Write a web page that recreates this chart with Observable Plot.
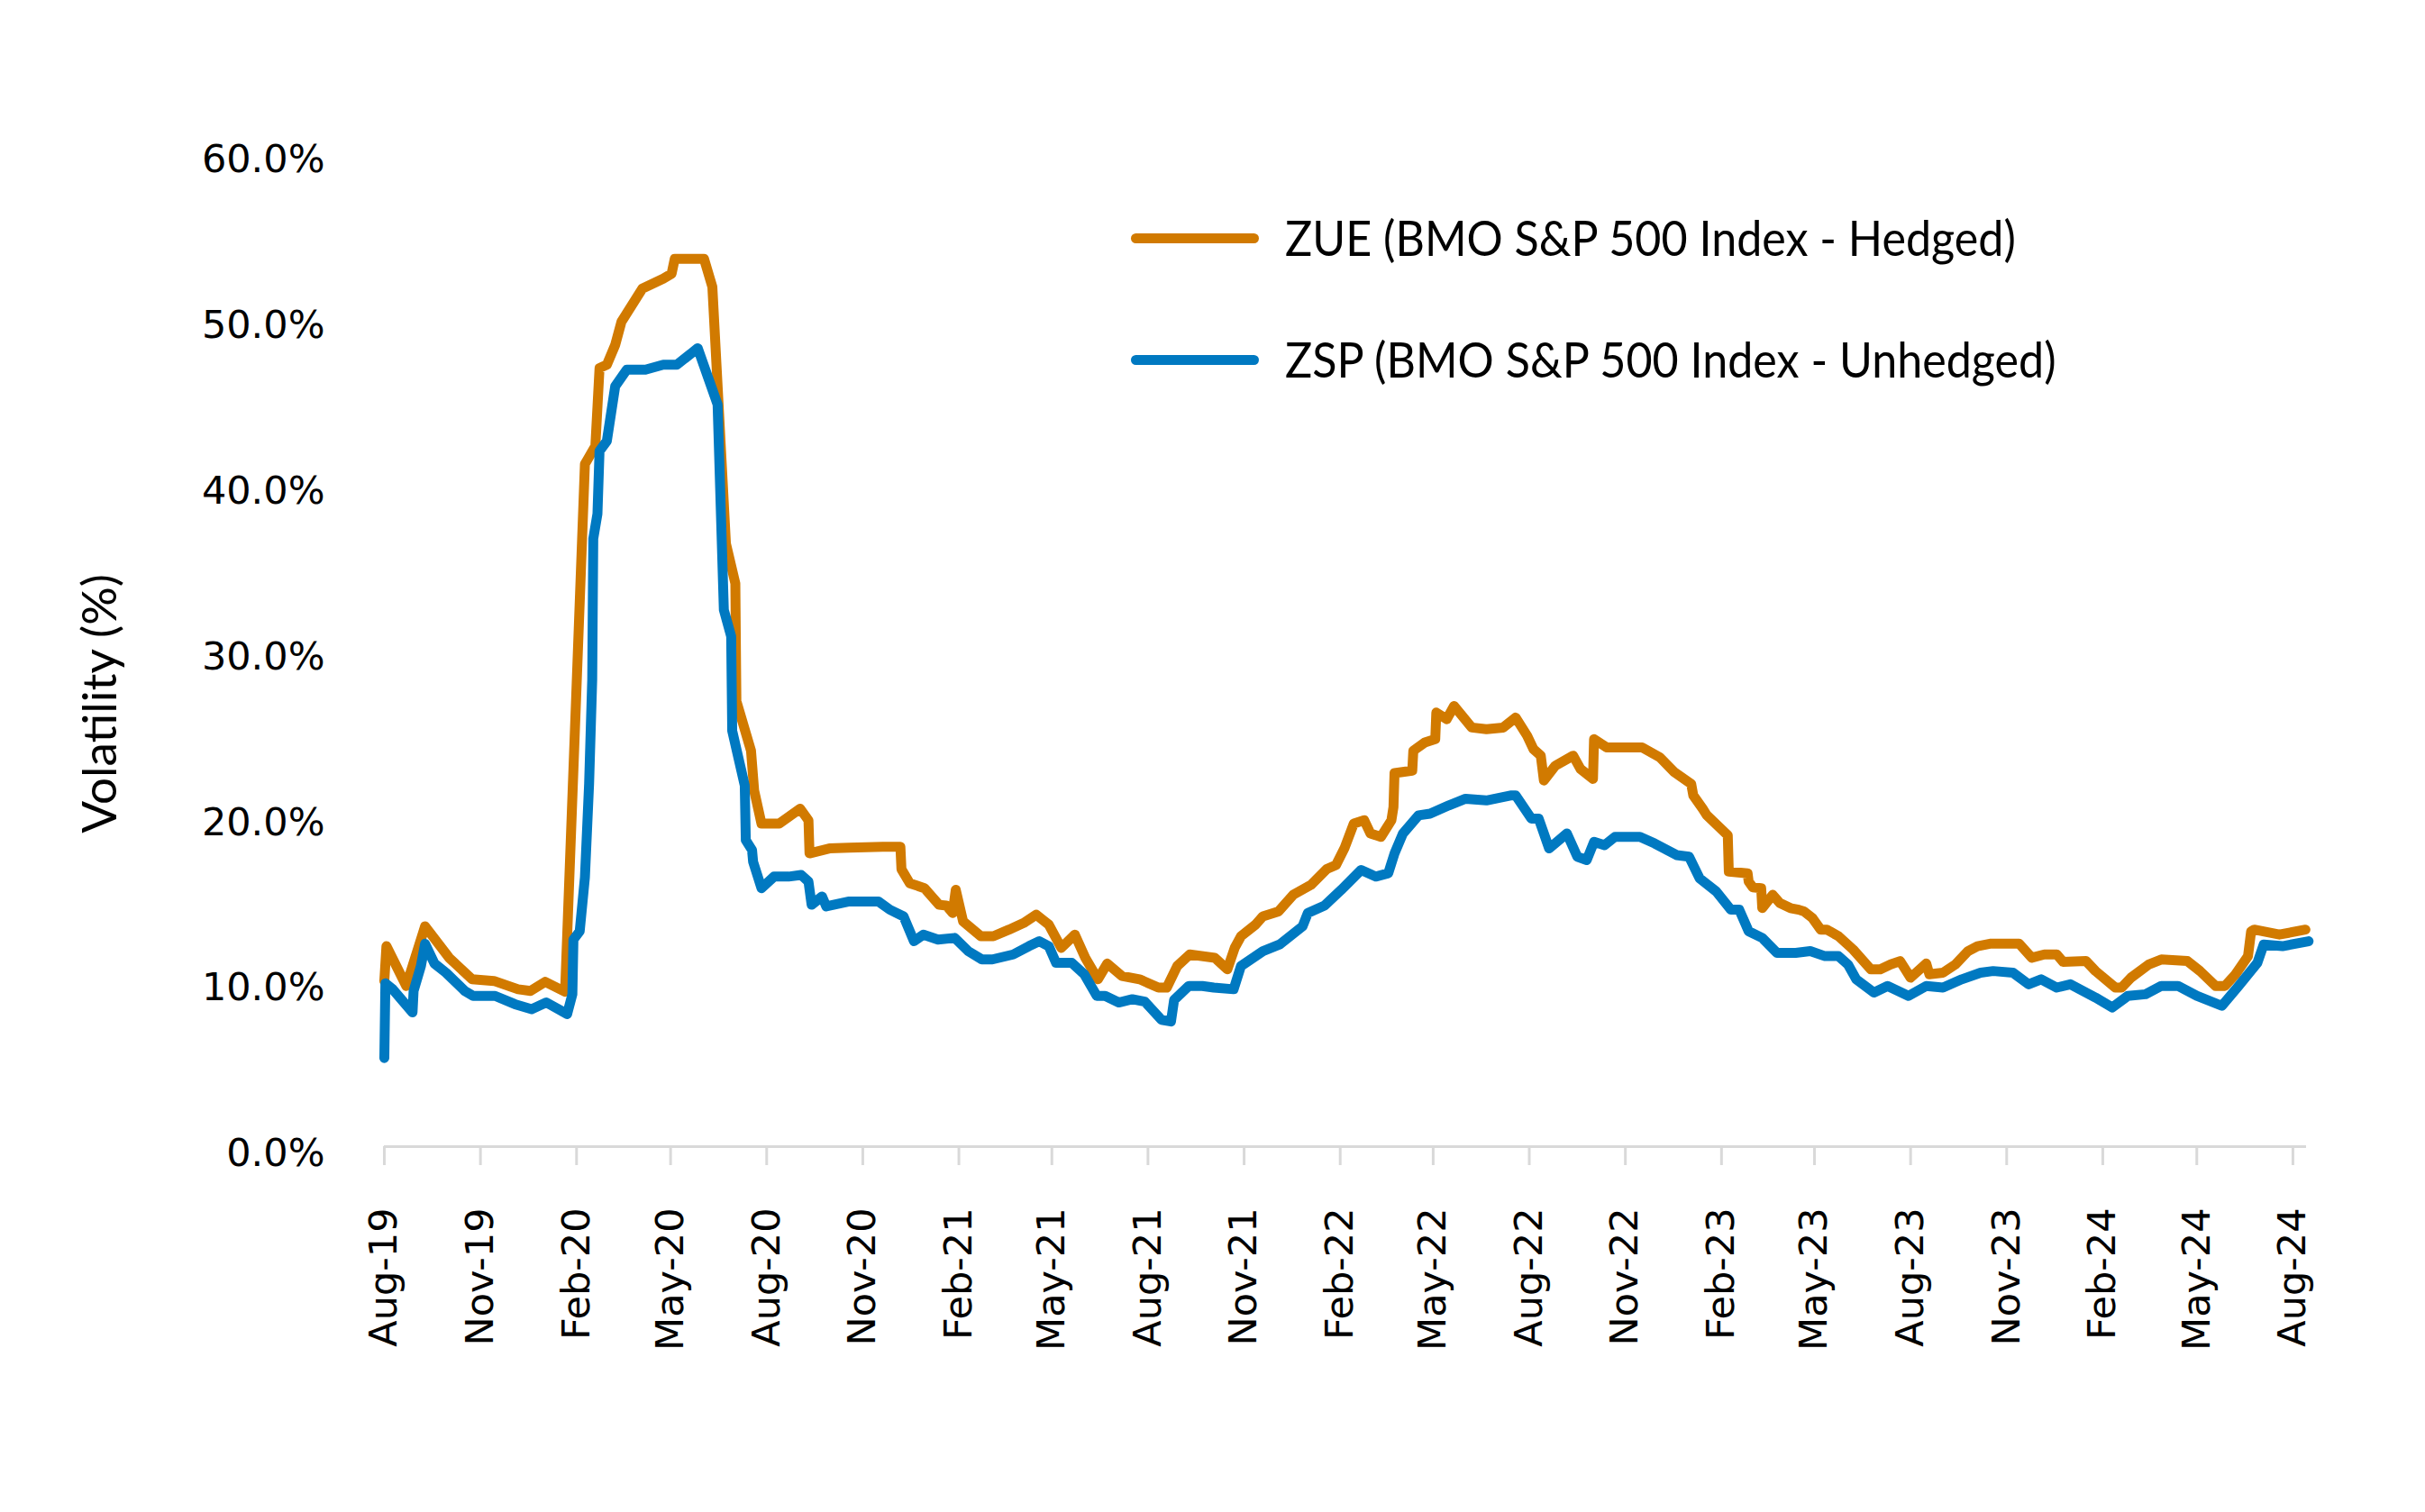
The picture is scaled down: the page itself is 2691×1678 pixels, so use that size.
<!DOCTYPE html>
<html><head><meta charset="utf-8">
<script src="https://cdn.jsdelivr.net/npm/d3@7"></script>
<script src="https://cdn.jsdelivr.net/npm/@observablehq/plot@0.6"></script>
<style>
html,body{margin:0;padding:0;background:#fff;}
#wrap{position:relative;width:2691px;height:1678px;}
.legend{position:absolute;left:1255px;height:64px;font-family:Lato,sans-serif;font-size:54px;line-height:64px;color:#000;display:flex;align-items:center;white-space:nowrap;}
.legend .sw{display:inline-block;width:142px;height:11px;border-radius:6px;margin-right:29px;}
.legend .tx{display:inline-block;transform:scaleX(0.93);transform-origin:0 50%;}
</style></head><body>
<div id="wrap"></div>
<script>
const seriesNames = ["ZUE (BMO S&P 500 Index - Hedged)", "ZSP (BMO S&P 500 Index - Unhedged)"];
const seriesColors = ["#D17A00", "#0079C1"];
const yLabel = "Volatility (%)";
const yTicks = [0, 10, 20, 30, 40, 50, 60];
const tickDates = ["2019-08-01","2019-11-01","2020-02-01","2020-05-01","2020-08-01","2020-11-01","2021-02-01","2021-05-01","2021-08-01","2021-11-01","2022-02-01","2022-05-01","2022-08-01","2022-11-01","2023-02-01","2023-05-01","2023-08-01","2023-11-01","2024-02-01","2024-05-01","2024-08-01"];
const tickLabels = ["Aug-19","Nov-19","Feb-20","May-20","Aug-20","Nov-20","Feb-21","May-21","Aug-21","Nov-21","Feb-22","May-22","Aug-22","Nov-22","Feb-23","May-23","Aug-23","Nov-23","Feb-24","May-24","Aug-24"];

const zueDates = ["2019-08-01","2019-08-03","2019-08-22","2019-09-09","2019-10-02","2019-10-24","2019-11-14","2019-12-07","2019-12-19",
"2020-01-02","2020-01-21","2020-02-09","2020-02-19","2020-02-23","2020-03-01","2020-03-09","2020-03-15","2020-04-04","2020-04-24","2020-05-02","2020-05-05","2020-06-02","2020-06-10","2020-06-23","2020-07-02","2020-07-03","2020-07-17","2020-07-20","2020-07-27","2020-08-13","2020-09-02","2020-09-10","2020-09-11","2020-09-30","2020-10-19","2020-11-20","2020-12-07","2020-12-08","2020-12-16","2020-12-30",
"2021-01-13","2021-01-20","2021-01-26","2021-01-29","2021-02-05","2021-02-22","2021-03-06","2021-03-21","2021-04-04","2021-04-16","2021-04-28","2021-05-10","2021-05-23","2021-06-02","2021-06-14","2021-06-23","2021-07-07","2021-07-24","2021-08-11","2021-08-19","2021-08-29","2021-09-10","2021-10-04","2021-10-16","2021-10-23","2021-10-29","2021-11-12","2021-11-19","2021-12-04","2021-12-18",
"2022-01-04","2022-01-19","2022-01-28","2022-02-05","2022-02-14","2022-02-24","2022-03-02","2022-03-12","2022-03-22","2022-03-24","2022-03-25","2022-04-11","2022-04-12","2022-04-23","2022-05-03","2022-05-04","2022-05-14","2022-05-21","2022-06-07","2022-06-21","2022-07-07","2022-07-19","2022-07-30","2022-08-05","2022-08-12","2022-08-15","2022-08-26","2022-09-12","2022-09-19","2022-10-01","2022-10-02","2022-10-14","2022-11-17","2022-12-04","2022-12-18",
"2023-01-03","2023-01-05","2023-01-14","2023-01-18","2023-02-07","2023-02-08","2023-02-26","2023-02-27","2023-03-03","2023-03-11","2023-03-12","2023-03-22","2023-03-29","2023-04-08","2023-04-16","2023-04-21","2023-04-29","2023-05-07","2023-05-13","2023-05-24","2023-06-07","2023-06-24","2023-07-03","2023-07-13","2023-07-22","2023-08-01","2023-08-16","2023-08-19","2023-09-01","2023-09-13","2023-09-25","2023-10-04","2023-10-16","2023-11-13","2023-11-25","2023-12-07","2023-12-19","2023-12-25",
"2024-01-16","2024-01-25","2024-02-13","2024-02-19","2024-02-28","2024-03-16","2024-03-28","2024-04-22","2024-05-04","2024-05-19","2024-05-28","2024-06-07","2024-06-19","2024-06-22","2024-06-25","2024-07-19","2024-08-13"];
const zueValues = [10.0,12.1,9.7,13.3,11.4,10.1,10.0,9.5,9.4,
9.95,9.35,41.2,42.3,47.0,47.2,48.4,49.8,51.8,52.4,52.7,53.6,53.6,51.9,36.4,34.0,26.9,23.9,21.5,19.5,19.5,20.4,19.7,17.7,18.0,18.05,18.1,18.1,16.75,15.9,15.6,
14.6,14.55,14.1,15.5,13.6,12.7,12.7,13.1,13.5,14.0,13.4,12.0,12.8,11.4,10.1,11.05,10.3,10.1,9.6,9.6,10.9,11.6,11.4,10.7,12.0,12.7,13.4,13.9,14.2,15.2,
15.8,16.75,17.0,18.0,19.5,19.7,18.9,18.7,19.7,20.5,22.55,22.7,23.9,24.4,24.6,26.2,25.8,26.6,25.3,25.2,25.3,25.9,24.8,24.0,23.6,22.1,23.0,23.6,22.8,22.2,24.6,24.1,24.1,23.5,22.6,
21.9,21.2,20.4,20.0,18.8,16.6,16.5,16.0,15.65,15.6,14.4,15.2,14.7,14.4,14.3,14.2,13.8,13.1,13.1,12.7,11.9,10.7,10.7,11.0,11.2,10.2,11.05,10.4,10.5,11.0,11.8,12.1,12.25,12.25,11.4,11.6,11.6,11.15,
11.2,10.6,9.6,9.6,10.2,11.0,11.3,11.2,10.6,9.7,9.7,10.4,11.5,13.0,13.1,12.8,13.1];

const zspDates = ["2019-08-01","2019-08-02","2019-08-09","2019-08-28","2019-08-29","2019-09-05","2019-09-09","2019-09-18","2019-09-29","2019-10-17","2019-10-25","2019-11-15","2019-12-04","2019-12-20",
"2020-01-03","2020-01-23","2020-01-28","2020-01-29","2020-02-04","2020-02-09","2020-02-13","2020-02-16","2020-02-17","2020-02-21","2020-02-23","2020-03-01","2020-03-09","2020-03-20","2020-04-07","2020-04-24","2020-05-07","2020-05-27","2020-06-15","2020-06-21","2020-06-28","2020-06-29","2020-07-11","2020-07-12","2020-07-18","2020-07-19","2020-07-27","2020-08-08","2020-08-22","2020-09-03","2020-09-10","2020-09-13","2020-09-23","2020-09-27","2020-10-19","2020-11-16","2020-11-27","2020-12-10","2020-12-20","2020-12-29",
"2021-01-12","2021-01-28","2021-02-10","2021-02-23","2021-03-05","2021-03-25","2021-04-09","2021-04-19","2021-04-28","2021-05-05","2021-05-20","2021-06-01","2021-06-13","2021-06-21","2021-07-04","2021-07-17","2021-07-29","2021-08-14","2021-08-23","2021-08-26","2021-09-09","2021-09-22","2021-10-03","2021-10-22","2021-10-29","2021-11-19","2021-12-05","2021-12-27",
"2022-01-01","2022-01-17","2022-02-02","2022-02-21","2022-03-07","2022-03-19","2022-03-25","2022-04-02","2022-04-17","2022-04-28","2022-05-16","2022-06-01","2022-06-21","2022-07-14","2022-07-19","2022-08-03","2022-08-10","2022-08-20","2022-09-06","2022-09-16","2022-09-25","2022-10-02","2022-10-12","2022-10-22","2022-11-15","2022-11-29","2022-12-20",
"2023-01-01","2023-01-11","2023-01-27","2023-02-10","2023-02-18","2023-02-27","2023-03-12","2023-03-26","2023-04-13","2023-04-27","2023-05-11","2023-05-24","2023-06-02","2023-06-10","2023-06-27","2023-07-10","2023-07-30","2023-08-16","2023-09-01","2023-09-19","2023-10-07","2023-10-19","2023-11-07","2023-11-22","2023-12-04","2023-12-19",
"2024-01-01","2024-01-25","2024-02-10","2024-02-25","2024-03-13","2024-03-28","2024-04-13","2024-05-01","2024-05-25","2024-06-10","2024-06-28","2024-07-04","2024-07-22","2024-08-16"];
const zspValues = [5.35,9.86,9.5,8.1,9.4,10.9,12.25,11.05,10.5,9.4,9.1,9.1,8.6,8.3,
8.7,8.0,9.2,12.5,13.0,16.25,21.9,28.2,36.7,38.2,42.0,42.6,45.9,46.9,46.9,47.2,47.2,48.2,44.8,32.4,30.8,25.1,21.8,18.5,17.9,17.2,15.6,16.3,16.3,16.4,16.0,14.6,15.1,14.5,14.8,14.8,14.3,13.9,12.4,12.8,
12.5,12.6,11.8,11.3,11.3,11.6,12.1,12.4,12.1,11.1,11.1,10.4,9.1,9.1,8.7,8.9,8.75,7.65,7.55,8.85,9.7,9.7,9.6,9.5,10.9,11.8,12.2,13.3,
14.1,14.55,15.5,16.7,16.3,16.5,17.7,18.9,20.0,20.1,20.6,21.0,20.9,21.2,21.2,19.8,19.8,18.0,18.9,17.5,17.3,18.4,18.2,18.7,18.7,18.3,17.6,
17.5,16.2,15.4,14.3,14.3,13.0,12.6,11.7,11.7,11.8,11.5,11.5,11.0,10.1,9.3,9.7,9.1,9.7,9.6,10.1,10.5,10.6,10.5,9.8,10.1,9.6,
9.8,9.0,8.4,9.1,9.2,9.7,9.7,9.1,8.5,9.7,11.1,12.2,12.1,12.4];

const zue = zueDates.map((d, i) => ({date: new Date(d), value: zueValues[i]}));
const zsp = zspDates.map((d, i) => ({date: new Date(d), value: zspValues[i]}));
const labelByTime = new Map(tickDates.map((d, i) => [+new Date(d), tickLabels[i]]));

const chart = Plot.plot({
  width: 2691, height: 1678,
  marginLeft: 426, marginRight: 132, marginTop: 169, marginBottom: 406,
  style: {fontFamily: "'DejaVu Sans', sans-serif", fontSize: "43px", background: "white", color: "black"},
  x: {type: "utc", domain: [new Date("2019-08-01"), new Date("2024-08-14")]},
  y: {domain: [0, 60]},
  marks: [
    Plot.ruleY([0], {stroke: "#d9d9d9", strokeWidth: 3}),
    Plot.axisX({ticks: tickDates.map(d => new Date(d)), tickFormat: d => labelByTime.get(+d), tickRotate: -90, tickSize: 21, tickPadding: 47, stroke: "#d9d9d9", strokeWidth: 3, fill: "black", fontSize: 43, label: null}),
    Plot.axisY({ticks: yTicks, tickFormat: d => d.toFixed(1) + "%", tickSize: 0, tickPadding: 66, fontSize: 43, fill: "black", label: null, dy: 8}),
    Plot.text([yLabel], {frameAnchor: "left", textAnchor: "middle", rotate: -90, dx: -314, dy: 60, fontSize: 53, fontFamily: "Lato, sans-serif", fill: "black"}),
    Plot.line(zue, {x: "date", y: "value", stroke: seriesColors[0], strokeWidth: 11, strokeLinejoin: "round", strokeLinecap: "round"}),
    Plot.line(zsp, {x: "date", y: "value", stroke: seriesColors[1], strokeWidth: 11, strokeLinejoin: "round", strokeLinecap: "round"})
  ]
});
const wrap = document.getElementById("wrap");
wrap.appendChild(chart);
const legendTops = [232, 367];
seriesNames.forEach((name, i) => {
  const row = document.createElement("div");
  row.className = "legend";
  row.style.top = legendTops[i] + "px";
  const sw = document.createElement("span");
  sw.className = "sw";
  sw.style.background = seriesColors[i];
  const tx = document.createElement("span");
  tx.className = "tx";
  tx.textContent = name;
  row.appendChild(sw);
  row.appendChild(tx);
  wrap.appendChild(row);
});
</script></body></html>
